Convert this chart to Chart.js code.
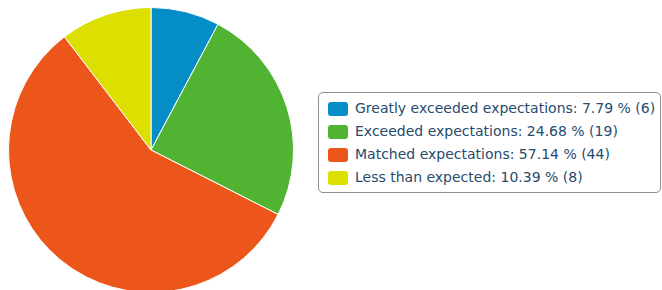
<!DOCTYPE html>
<html><head><meta charset="utf-8">
<script src="https://cdn.jsdelivr.net/npm/chart.js@4/dist/chart.umd.min.js"></script>
<style>
html,body{margin:0;padding:0;background:#fff;width:662px;height:290px;overflow:hidden;position:relative;font-family:"DejaVu Sans",sans-serif;}
#wrap{position:absolute;left:8px;top:7px;width:286px;height:286px;}
#legend{position:absolute;left:318px;top:92px;width:343px;height:101px;box-sizing:border-box;border:1px solid #909090;border-radius:5px;padding:4px 0 0 9px;}
.item{height:23px;line-height:23px;font-size:14px;color:#274b6d;white-space:nowrap;display:flex;align-items:center;}
.sw{width:20px;height:14px;border-radius:3px;margin-right:7px;flex:none;}
</style></head>
<body>
<div id="wrap"><canvas id="c" width="286" height="286"></canvas></div>
<div id="legend"></div>
<script>
const categories = ["Greatly exceeded expectations","Exceeded expectations","Matched expectations","Less than expected"];
const counts = [6, 19, 44, 8];
const colors = ["#058DC7","#50B432","#ED561B","#DDDF00"];
const total = counts.reduce((a,b)=>a+b,0);
new Chart(document.getElementById('c'), {
  type:'pie',
  data:{labels:categories,datasets:[{data:counts,backgroundColor:colors,borderColor:'#ffffff',borderWidth:1}]},
  options:{responsive:false,animation:false,layout:{padding:0},plugins:{legend:{display:false},tooltip:{enabled:false}}}
});
const lg=document.getElementById('legend');
categories.forEach((c,i)=>{
  const d=document.createElement('div');d.className='item';
  const s=document.createElement('span');s.className='sw';s.style.background=colors[i];
  const t=document.createElement('span');t.textContent=c+': '+(counts[i]/total*100).toFixed(2)+' % ('+counts[i]+')';
  d.appendChild(s);d.appendChild(t);lg.appendChild(d);
});
</script>
</body></html>
